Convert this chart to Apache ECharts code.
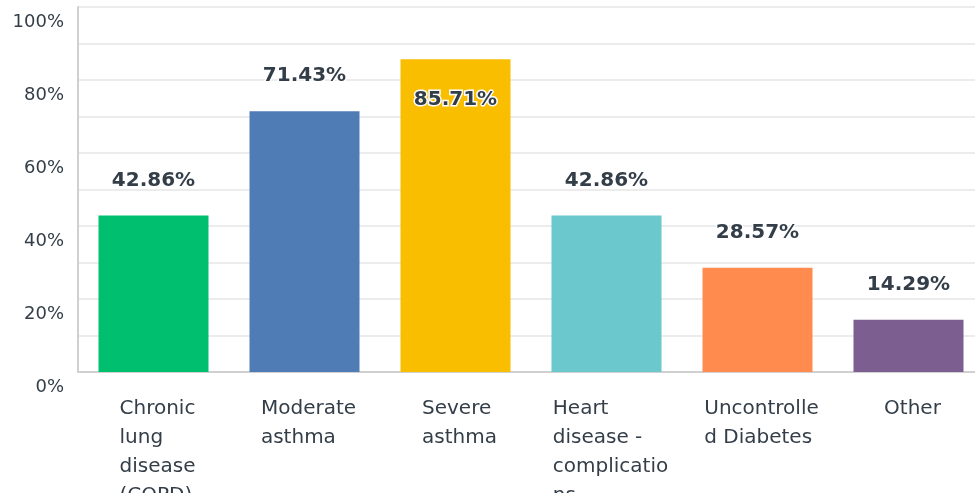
<!DOCTYPE html>
<html>
<head>
<meta charset="utf-8">
<script src="https://cdn.jsdelivr.net/npm/echarts@6/dist/echarts.min.js"></script>
<style>
html,body{margin:0;padding:0;background:#fff;}
#chart{width:975px;height:493px;}
</style>
</head>
<body>
<div id="chart"></div>
<script>
var categories = ['Chronic\nlung\ndisease\n(COPD)', 'Moderate\nasthma', 'Severe\nasthma', 'Heart\ndisease -\ncomplicatio\nns', 'Uncontrolle\nd Diabetes', 'Other'];
var values = [42.86, 71.43, 85.71, 42.86, 28.57, 14.29];
var colors = ['#00bf6f', '#507cb6', '#f9be00', '#6bc8cd', '#ff8b4f', '#7d5e90'];
var yTicks = [0, 20, 40, 60, 80, 100];

var labelOverrides = {
  2: { position: 'insideTop', distance: 31 }
};

var data = values.map(function (v, i) {
  var item = { value: v, itemStyle: { color: colors[i] } };
  if (labelOverrides[i]) item.label = labelOverrides[i];
  return item;
});

var chart = echarts.init(document.getElementById('chart'));
chart.setOption({
  animation: false,
  grid: { left: 78, top: 7, width: 906, bottom: 121, containLabel: false, outerBoundsMode: 'none' },
  xAxis: {
    type: 'category',
    data: categories,
    axisTick: { show: false },
    axisLine: { lineStyle: { color: '#d0d0d0', width: 2 } },
    axisLabel: {
      interval: 0,
      margin: 22,
      padding: [0, 0, 0, 8],
      formatter: function (s) {
        return s.split('\n').map(function (l) { return '{a|' + l + '}'; }).join('\n');
      },
      rich: {
        a: { align: 'left', fontFamily: 'DejaVu Sans', fontSize: 20, lineHeight: 29, color: '#333e48' }
      }
    }
  },
  yAxis: {
    type: 'value',
    min: 0,
    max: 100,
    interval: 10,
    axisLine: { show: true, lineStyle: { color: '#d0d0d0', width: 2 } },
    axisTick: { show: false },
    splitLine: { lineStyle: { color: '#ececec', width: 2 } },
    axisLabel: {
      margin: 14,
      verticalAlign: 'top',
      padding: [6, 0, 0, 0],
      fontFamily: 'DejaVu Sans',
      fontSize: 18,
      color: '#333e48',
      formatter: function (v) { return yTicks.indexOf(v) >= 0 ? v + '%' : ''; }
    }
  },
  series: [{
    type: 'bar',
    data: data,
    barWidth: 110,
    label: {
      show: true,
      position: 'top',
      distance: 25,
      fontFamily: 'DejaVu Sans',
      fontWeight: 'bold',
      fontSize: 20,
      color: '#333e48',
      textBorderColor: '#fff',
      textBorderWidth: 3,
      formatter: function (p) { return p.value.toFixed(2) + '%'; }
    }
  }]
});
</script>
</body>
</html>
